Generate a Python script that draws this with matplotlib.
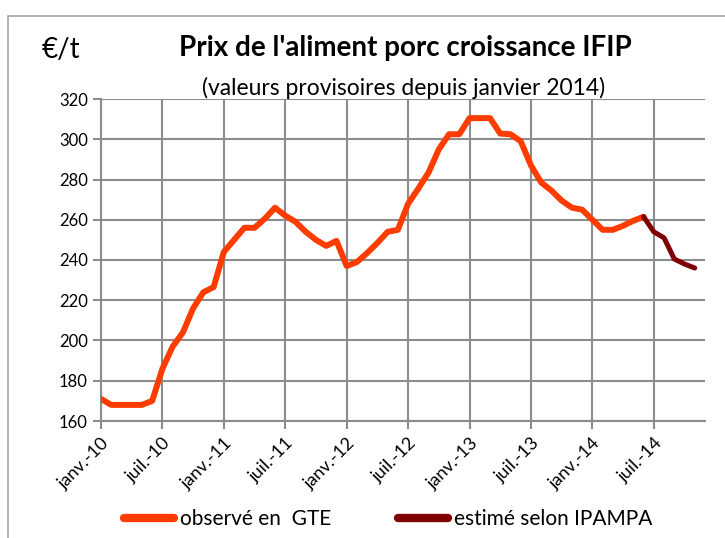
import matplotlib
matplotlib.use("Agg")
import matplotlib.pyplot as plt
from matplotlib.patches import Rectangle

plt.rcParams['font.family'] = ['Lato', 'DejaVu Sans']

# Données mensuelles (janv. 2010 -> nov. 2014)
mois_obs = list(range(0, 54))
prix_obs = [171, 168, 168, 168, 168, 170, 186, 197, 204, 216, 224, 226.5,
            244, 250, 256, 256, 260.5, 266, 262, 259, 254, 250, 247, 249.5,
            237, 239, 243.5, 248.5, 254, 255, 268, 275.5, 283.5, 295, 302.5, 302.5,
            310.5, 310.5, 310.5, 302.8, 302.5, 299, 287, 278.5, 274.5, 269.5, 266, 265,
            260, 255, 255, 257, 259.5, 261.5]
mois_est = list(range(53, 59))
prix_est = [261.5, 254, 251, 240.5, 238, 236]

pos_ticks = [0, 6, 12, 18, 24, 30, 36, 42, 48, 54]
labels_ticks = ['janv.-10', 'juil.-10', 'janv.-11', 'juil.-11', 'janv.-12',
                'juil.-12', 'janv.-13', 'juil.-13', 'janv.-14', 'juil.-14']

fig = plt.figure(figsize=(7.25, 5.38), dpi=100)
ax = fig.add_axes([101/725, 1-421/538, 604/725, 322/538])

gris = '#8c8c8c'
ax.plot(mois_obs, prix_obs, color='#ff3c00', lw=4.3, solid_capstyle='round',
        solid_joinstyle='round', label='observé en  GTE', zorder=3)
ax.plot(mois_est, prix_est, color='#7f0000', lw=3.6, solid_capstyle='round',
        solid_joinstyle='round', label='estimé selon IPAMPA', zorder=3)

ax.set_xlim(0, 59)
ax.set_ylim(160, 320)
ax.set_yticks(range(160, 321, 20))
ax.set_xticks(pos_ticks)
ax.set_xticklabels(labels_ticks, rotation=45, ha='right', rotation_mode='anchor')
ax.tick_params(axis='both', colors=gris, labelcolor='black', labelsize=12,
               length=6, width=1.5)
ax.tick_params(axis='x', pad=4, labelsize=13)
ax.grid(True, color=gris, lw=1.5)
ax.set_axisbelow(True)
for s in ['top', 'right']:
    ax.spines[s].set_visible(False)
for s in ['left', 'bottom']:
    ax.spines[s].set_color(gris)
    ax.spines[s].set_linewidth(1.5)

# titres
fig.text(405/725, 1-48/538, "Prix de l'aliment porc croissance IFIP", ha='center',
         va='center', fontsize=20, fontweight='bold')
fig.text(404/725, 1-88/538, "(valeurs provisoires depuis janvier 2014)", ha='center',
         va='center', fontsize=16.5)
fig.text(61/725, 1-50/538, "€/t", ha='center', va='center', fontsize=20)

leg = fig.legend(loc='center', bbox_to_anchor=(388/725, 1-519/538), ncol=2,
                 frameon=False, fontsize=15, handlelength=2.4, columnspacing=3.2,
                 handletextpad=0.3)
for l in leg.get_lines():
    l.set_linewidth(6)

# cadre du graphique
fig.patches.append(Rectangle((8/725, -0.1), 1.0, 1-16/538+0.1, transform=fig.transFigure,
                             fill=False, edgecolor='#a6a6a6', lw=1.2))

fig.savefig('out.png', dpi=100)
